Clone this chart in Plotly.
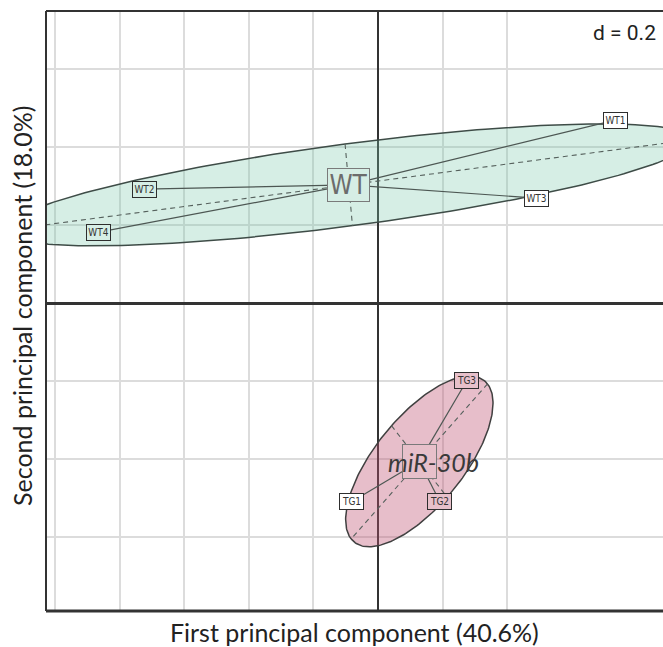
import numpy as np
import plotly.graph_objects as go

# ---------------- data ----------------
sample_labels = ["WT1", "WT2", "WT3", "WT4", "TG1", "TG2", "TG3"]
groups = ["WT", "WT", "WT", "WT", "TG", "TG", "TG"]
pc1 = [0.734, -0.723, 0.490, -0.864, -0.082, 0.191, 0.274]
pc2 = [0.469, 0.292, 0.269, 0.182, -0.510, -0.509, -0.200]
group_order = ["WT", "TG"]
group_display = {"WT": "WT", "TG": "miR-30b"}
x_title = "First principal component (40.6%)"
y_title = "Second principal component (18.0%)"
d_label = "d = 0.2"
x_grid = [-1.0, -0.8, -0.6, -0.4, -0.2, 0.0, 0.2, 0.4]
y_grid = [-0.6, -0.4, -0.2, 0.0, 0.2, 0.4, 0.6]

# ---------------- styles ----------------
fill = {"WT": "rgba(120,200,170,0.30)", "TG": "rgba(190,80,110,0.37)"}
solid_bg = {"WT": "rgb(214,238,229)", "TG": "rgb(231,192,202)"}
outline = {"WT": "#3e4c47", "TG": "#404040"}
label_bg = ["white", "inside", "white", "inside", "white", "inside", "inside"]
cellipse = 1.5
XR = [-1.028, 0.882]
YR = [-0.790, 0.749]
narrow = "DejaVu Sans Condensed, Liberation Sans Narrow, Arial Narrow, Roboto, sans-serif"
title_font = "Lato, Open Sans, sans-serif"

fig = go.Figure()
annotations = []
x_arr = np.array(pc1)
y_arr = np.array(pc2)
g_arr = np.array(groups)

for g in group_order:
    m = g_arr == g
    xs, ys = x_arr[m], y_arr[m]
    cx, cy = xs.mean(), ys.mean()
    cov = np.cov(np.vstack([xs, ys]), bias=True)
    vals, vecs = np.linalg.eigh(cov)
    order = np.argsort(vals)[::-1]
    vals, vecs = vals[order], vecs[:, order]
    a = cellipse * np.sqrt(vals[0])
    b = cellipse * np.sqrt(vals[1])
    t = np.linspace(0, 2 * np.pi, 241)
    ex = cx + a * np.cos(t) * vecs[0, 0] + b * np.sin(t) * vecs[0, 1]
    ey = cy + a * np.cos(t) * vecs[1, 0] + b * np.sin(t) * vecs[1, 1]
    fig.add_trace(go.Scatter(x=ex, y=ey, mode="lines", fill="toself",
                             fillcolor=fill[g], line=dict(color=outline[g], width=1.5),
                             hoverinfo="skip", showlegend=False))
    # ellipse axes (dashed)
    for k, r in ((0, a), (1, b)):
        fig.add_trace(go.Scatter(
            x=[cx - r * vecs[0, k], cx + r * vecs[0, k]],
            y=[cy - r * vecs[1, k], cy + r * vecs[1, k]],
            mode="lines", line=dict(color="#55605c", width=1.1, dash="5px,4px"),
            hoverinfo="skip", showlegend=False))
    # star lines
    sx, sy = [], []
    for xi, yi in zip(xs, ys):
        sx += [cx, xi, None]
        sy += [cy, yi, None]
    fig.add_trace(go.Scatter(x=sx, y=sy, mode="lines",
                             line=dict(color="#4d5753", width=1.2),
                             hoverinfo="skip", showlegend=False))
    # group centre box
    if g == "WT":
        annotations.append(dict(x=cx, y=cy, xref="x", yref="y", text="WT", showarrow=False,
                                font=dict(family=narrow, size=26, color="#6c6c6c"),
                                bgcolor=solid_bg[g], bordercolor="#7a7a7a", borderwidth=1,
                                width=41, height=32, borderpad=0))
    else:
        annotations.append(dict(x=cx, y=cy, xref="x", yref="y", text="", showarrow=False,
                                bgcolor=solid_bg[g], bordercolor="#7a7a7a", borderwidth=1,
                                width=33, height=33, borderpad=0))
        annotations.append(dict(x=cx, y=cy, xref="x", yref="y", text="<i>" + group_display[g] + "</i>",
                                showarrow=False, xshift=14, yshift=-1,
                                font=dict(family=title_font, size=25, color="#3a3a3a")))

# sample labels
for lab, xi, yi, g, bg in zip(sample_labels, pc1, pc2, groups, label_bg):
    annotations.append(dict(x=xi, y=yi, xref="x", yref="y", text=lab, showarrow=False,
                            font=dict(family=narrow, size=10, color="#333333"),
                            bgcolor=(solid_bg[g] if bg == "inside" else "white"),
                            bordercolor="#2e2e2e", borderwidth=1,
                            width=23, height=15, borderpad=0))

# titles and d label
annotations.append(dict(x=0.5, y=0, xref="paper", yref="paper", yshift=-21, text=x_title,
                        showarrow=False, yanchor="middle",
                        font=dict(family=title_font, size=25, color="#222222")))
annotations.append(dict(x=0, y=0.5, xref="paper", yref="paper", xshift=-24, yshift=5, text=y_title,
                        showarrow=False, textangle=-90, xanchor="center",
                        font=dict(family=title_font, size=25, color="#222222")))
annotations.append(dict(x=1, y=1, xref="paper", yref="paper", xshift=-5, yshift=-22, text=d_label,
                        showarrow=False, xanchor="right", yanchor="middle", bgcolor="white",
                        font=dict(family="Roboto, sans-serif", size=21, color="#222222")))

shapes = [
    dict(type="line", xref="paper", yref="paper", x0=0, x1=0, y0=0, y1=1,
         line=dict(color="#333333", width=2), layer="above"),
    dict(type="line", xref="paper", yref="paper", x0=0, x1=1, y0=1, y1=1,
         line=dict(color="#333333", width=2), layer="above"),
    dict(type="line", xref="paper", yref="paper", x0=0, x1=1, y0=0, y1=0,
         line=dict(color="#333333", width=3), layer="above"),
]

fig.update_layout(
    width=663, height=647,
    margin=dict(l=46, r=0, t=11, b=36),
    paper_bgcolor="white", plot_bgcolor="white",
    showlegend=False,
    annotations=annotations, shapes=shapes,
    xaxis=dict(range=XR, tickvals=x_grid, showticklabels=False, ticks="",
               showgrid=True, gridcolor="#dcdcdc", gridwidth=2,
               zeroline=True, zerolinecolor="#333333", zerolinewidth=1.5,
               showline=False, fixedrange=True),
    yaxis=dict(range=YR, tickvals=y_grid, showticklabels=False, ticks="",
               showgrid=True, gridcolor="#dcdcdc", gridwidth=2,
               zeroline=True, zerolinecolor="#333333", zerolinewidth=2.5,
               showline=False, fixedrange=True),
)

fig.write_html("out.html", config={"displayModeBar": False},
               post_script="document.body.style.margin='0';document.body.style.overflow='hidden';")
